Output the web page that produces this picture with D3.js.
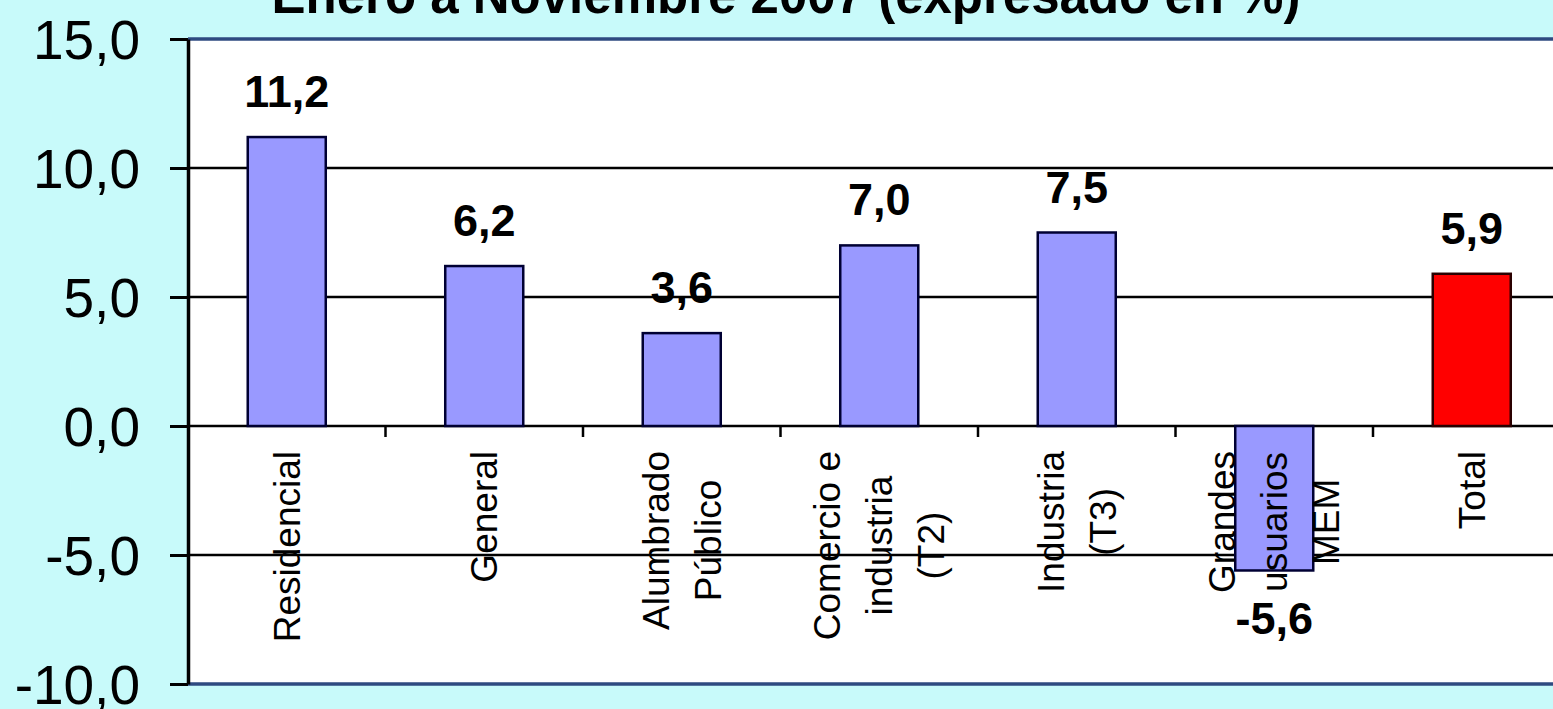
<!DOCTYPE html>
<html>
<head>
<meta charset="utf-8">
<script src="https://cdn.jsdelivr.net/npm/d3@7"></script>
<style>
	body { margin: 0; background: #c8fafa; overflow: hidden; }
	svg { display: block; font-family: "Liberation Sans", Arial, sans-serif; }
</style>
</head>
<body>
<svg id="chart"></svg>
<script>
(function() {

	// DATA
	var title = 'Enero a Noviembre 2007 (expresado en %)';
	var categories = ['Residencial', 'General', 'Alumbrado Público', 'Comercio e industria (T2)', 'Industria (T3)', 'Grandes usuarios MEM', 'Total'];
	var labelLines = [['Residencial'], ['General'], ['Alumbrado', 'Público'], ['Comercio e', 'industria', '(T2)'], ['Industria', '(T3)'], ['Grandes', 'usuarios', 'MEM'], ['Total']];
	var values = [11.2, 6.2, 3.6, 7.0, 7.5, -5.6, 5.9];
	var yTicks = [15, 10, 5, 0, -5, -10];

	// VARS
	var width = 1553;
	var height = 709;
	var plot = { left: 188, right: 1570.5, top: 39, bottom: 684 };
	var lineStep = 52;

	var svg = d3.select('#chart')
		.attr('width', width)
		.attr('height', height);

	var x = d3.scaleBand()
		.domain(categories)
		.range([plot.left, plot.right])
		.paddingInner(0.605)
		.paddingOuter(0.3025);

	var y = d3.scaleLinear()
		.domain([-10, 15])
		.range([plot.bottom, plot.top]);

	// decimal comma, plain hyphen for negatives
	var fmt = function(d) { return d3.format('.1f')(d).replace('.', ',').replace('\u2212', '-'); };

	// plot background
	svg.append('rect')
		.attr('x', plot.left)
		.attr('y', y(15))
		.attr('width', width - plot.left)
		.attr('height', y(-10) - y(15))
		.attr('fill', '#ffffff');

	// gridlines
	svg.append('g').selectAll('line')
		.data([10, 5, 0, -5])
		.enter().append('line')
		.attr('x1', plot.left)
		.attr('x2', width)
		.attr('y1', function(d) { return y(d); })
		.attr('y2', function(d) { return y(d); })
		.attr('stroke', '#000')
		.attr('stroke-width', 2.5);

	// borders top / bottom
	svg.append('g').selectAll('line')
		.data([15, -10])
		.enter().append('line')
		.attr('x1', plot.left)
		.attr('x2', width)
		.attr('y1', function(d) { return y(d); })
		.attr('y2', function(d) { return y(d); })
		.attr('stroke', '#2e4a80')
		.attr('stroke-width', 3.5);

	// category ticks on the zero line
	svg.append('g').selectAll('line')
		.data(categories.slice(1))
		.enter().append('line')
		.attr('x1', function(d) { return x(d) - x.step() * x.paddingInner() / 2; })
		.attr('x2', function(d) { return x(d) - x.step() * x.paddingInner() / 2; })
		.attr('y1', y(0))
		.attr('y2', y(0) + 11)
		.attr('stroke', '#000')
		.attr('stroke-width', 2.5);

	// bars
	svg.append('g').selectAll('rect')
		.data(values)
		.enter().append('rect')
		.attr('x', function(d, i) { return x(categories[i]); })
		.attr('width', x.bandwidth())
		.attr('y', function(d) { return y(Math.max(0, d)); })
		.attr('height', function(d) { return Math.abs(y(d) - y(0)); })
		.attr('fill', function(d, i) { return i === values.length - 1 ? '#ff0000' : '#9999ff'; })
		.attr('stroke', function(d, i) { return i === values.length - 1 ? '#2a0000' : '#000033'; })
		.attr('stroke-width', 2.5);

	// y axis
	var yAxis = svg.append('g')
		.attr('transform', 'translate(' + plot.left + ',0)')
		.call(d3.axisLeft(y)
			.tickValues(yTicks)
			.tickSize(18)
			.tickSizeOuter(0)
			.tickPadding(30)
			.tickFormat(fmt));

	yAxis.select('.domain')
		.attr('stroke', '#000')
		.attr('stroke-width', 3.5);
	yAxis.selectAll('.tick line')
		.attr('stroke', '#000')
		.attr('stroke-width', 3);
	yAxis.selectAll('.tick text')
		.attr('fill', '#000')
		.attr('dy', '0.35em')
		.style('font-size', '55px');

	// value labels
	svg.append('g').selectAll('text')
		.data(values)
		.enter().append('text')
		.attr('x', function(d, i) { return x(categories[i]) + x.bandwidth() / 2; })
		.attr('y', function(d) { return d >= 0 ? y(d) - 30 : y(d) + 64; })
		.attr('text-anchor', 'middle')
		.style('font-size', '45px')
		.style('font-weight', 'bold')
		.text(fmt);

	// category labels, rotated, block top just under the zero line
	var labelTop = y(0) + 25;
	labelLines.forEach(function(lines, i) {
		var cx = x(categories[i]) + x.bandwidth() / 2;
		var g = svg.append('g');
		var texts = g.selectAll('text')
			.data(lines)
			.enter().append('text')
			.attr('text-anchor', 'middle')
			.attr('dy', '0.35em')
			.style('font-size', '37px')
			.text(function(d) { return d; });

		var maxLen = 0;
		texts.each(function() { maxLen = Math.max(maxLen, this.getComputedTextLength()); });
		var cy = labelTop + maxLen / 2;

		texts.attr('transform', function(d, j) {
			var px = cx + (j - (lines.length - 1) / 2) * lineStep;
			return 'translate(' + px + ',' + cy + ')rotate(-90)';
		});
	});

	// title (partly cut off at top, as in the source)
	svg.append('text')
		.attr('x', 786)
		.attr('y', 13)
		.attr('text-anchor', 'middle')
		.style('font-size', '51px')
		.style('font-weight', 'bold')
		.text(title);

})()
</script>
</body>
</html>
